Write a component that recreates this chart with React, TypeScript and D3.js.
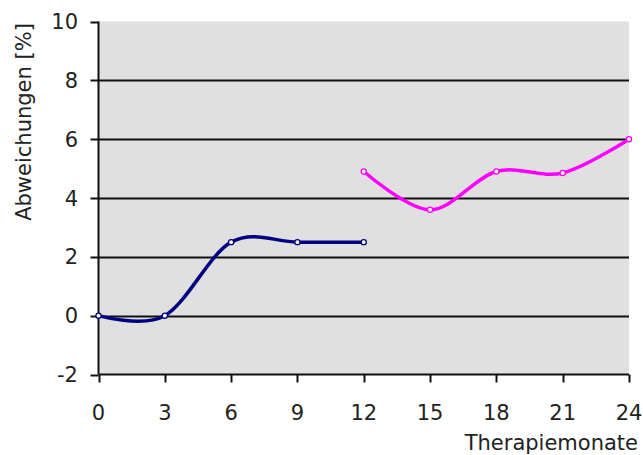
import React from "react";
import * as d3 from "d3";

// Months of therapy and deviation values (%) for the two phases
const monthsA = [0, 3, 6, 9, 12];
const valuesA = [0, 0, 2.5, 2.5, 2.5];
const monthsB = [12, 15, 18, 21, 24];
const valuesB = [4.9, 3.6, 4.9, 4.85, 6.0];

const xTicks = [0, 3, 6, 9, 12, 15, 18, 21, 24];
const yTicks = [-2, 0, 2, 4, 6, 8, 10];
const gridValues = [0, 2, 4, 6, 8];

const seriesColors = ["#000080", "#ff00ff"];

const W = 643;
const H = 455;
const plot = { left: 98.5, right: 629, top: 21.5, bottom: 374.5 };
const FONT = "'DejaVu Sans', Verdana, sans-serif";

export default function App() {
  const x = d3.scaleLinear().domain([0, 24]).range([plot.left, plot.right]);
  const y = d3.scaleLinear().domain([-2, 10]).range([plot.bottom, plot.top]);

  const line = d3
    .line<[number, number]>()
    .x((d) => x(d[0]))
    .y((d) => y(d[1]))
    .curve(d3.curveCardinal.tension(0));

  const series = [
    monthsA.map((m, i) => [m, valuesA[i]] as [number, number]),
    monthsB.map((m, i) => [m, valuesB[i]] as [number, number]),
  ];

  return (
    <svg
      width={W}
      height={H}
      style={{ position: "absolute", left: 0, top: 0, background: "#fff" }}
      fontFamily={FONT}
    >
      <rect
        x={plot.left}
        y={plot.top}
        width={plot.right - plot.left}
        height={plot.bottom - plot.top}
        fill="#e0e0e0"
      />
      {gridValues.map((v) => (
        <line
          key={`g${v}`}
          x1={plot.left}
          x2={plot.right}
          y1={Math.round(y(v)) + 0.5}
          y2={Math.round(y(v)) + 0.5}
          stroke="#111"
          strokeWidth={2}
        />
      ))}
      {/* axes */}
      <line x1={plot.left} x2={plot.left} y1={plot.top} y2={plot.bottom} stroke="#111" strokeWidth={2} />
      <line x1={plot.left} x2={plot.right} y1={plot.bottom} y2={plot.bottom} stroke="#111" strokeWidth={2} />
      {yTicks.map((v) => (
        <g key={`y${v}`}>
          <line
            x1={plot.left - 8}
            x2={plot.left}
            y1={Math.round(y(v)) + 0.5}
            y2={Math.round(y(v)) + 0.5}
            stroke="#111"
            strokeWidth={2}
          />
          <text x={78} y={y(v)} dy="0.36em" textAnchor="end" fontSize={21} fill="#222">
            {v}
          </text>
        </g>
      ))}
      {xTicks.map((v) => (
        <g key={`x${v}`}>
          <line
            x1={Math.round(x(v)) + 0.5}
            x2={Math.round(x(v)) + 0.5}
            y1={plot.bottom}
            y2={plot.bottom + 8}
            stroke="#111"
            strokeWidth={2}
          />
          <text x={x(v)} y={420} textAnchor="middle" fontSize={21} fill="#222">
            {v}
          </text>
        </g>
      ))}
      <text x={638} y={450} textAnchor="end" fontSize={21} fill="#222">
        Therapiemonate
      </text>
      <text
        transform="translate(31,122) rotate(-90)"
        textAnchor="middle"
        fontSize={21}
        fill="#222"
      >
        Abweichungen [%]
      </text>
      {series.map((pts, si) => (
        <g key={`s${si}`}>
          <path d={line(pts) ?? ""} fill="none" stroke={seriesColors[si]} strokeWidth={3.5} />
          {pts.map((p, i) => (
            <circle
              key={i}
              cx={x(p[0])}
              cy={y(p[1])}
              r={2.6}
              fill="#fff"
              stroke={seriesColors[si]}
              strokeWidth={1.3}
            />
          ))}
        </g>
      ))}
    </svg>
  );
}
